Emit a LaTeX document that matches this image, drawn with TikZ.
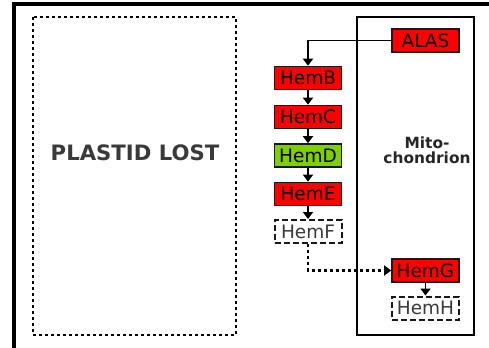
\documentclass[tikz,border=0pt]{standalone}
\usepackage{fontspec}
\setmainfont{DejaVu Sans}
\usetikzlibrary{arrows.meta}
\definecolor{hemred}{RGB}{255,0,0}
\definecolor{hemgreen}{RGB}{128,208,0}
\definecolor{txtgray}{RGB}{58,58,58}
\tikzset{
  gene/.style={draw=black!90, line width=1.7bp, minimum width=67bp, minimum height=23bp, inner sep=0pt,
    font=\fontsize{18.5bp}{20bp}\selectfont},
  lost/.style={gene, line width=2bp, dash pattern=on 6bp off 3bp, text=txtgray},
  flow/.style={line width=1.8bp, -{Triangle[length=7bp,width=10bp]}},
  dflow/.style={flow, line width=2.2bp, dash pattern=on 3bp off 3bp},
}
\begin{document}
\begin{tikzpicture}[x=1bp,y=-1bp]
\useasboundingbox (0,0) rectangle (489,347);
\begin{scope}
\clip (0,0) rectangle (489,347);
\draw[line width=3.5bp] (14,4) rectangle (540,400);
\end{scope}
% plastid lost
\draw[line width=2bp, dash pattern=on 3bp off 3bp] (33,17) rectangle (236,335);
\node[font=\bfseries\fontsize{21.2bp}{22bp}\selectfont, text=txtgray] (pl) at (135,153) {PLASTID LOST};
% mitochondrion
\draw[line width=1.9bp] (357,17) rectangle (474,335);
\node[font=\bfseries\fontsize{15.4bp}{14.5bp}\selectfont, align=center, text=black!85] (mito) at (427,150.5) {Mito-\\chondrion};
% genes
\node[gene, fill=hemred] (alas) at (425.5,40.5) {ALAS};
\node[gene, fill=hemred] (hemb) at (308,78) {HemB};
\node[gene, fill=hemred] (hemc) at (308,117) {HemC};
\node[gene, fill=hemgreen] (hemd) at (308,155.5) {HemD};
\node[gene, fill=hemred] (heme) at (308,194) {HemE};
\node[lost] (hemf) at (308,231.5) {HemF};
\node[gene, fill=hemred] (hemg) at (425.5,270.5) {HemG};
\node[lost] (hemh) at (425.5,308) {HemH};
% connectors
\draw[flow] (alas.west) -| (hemb.north);
\draw[flow] (hemb) -- (hemc);
\draw[flow] (hemc) -- (hemd);
\draw[flow] (hemd) -- (heme);
\draw[flow] (heme) -- (hemf);
\draw[dflow] (hemf.south) |- (hemg.west);
\draw[flow] (hemg) -- (hemh);
\end{tikzpicture}
\end{document}
